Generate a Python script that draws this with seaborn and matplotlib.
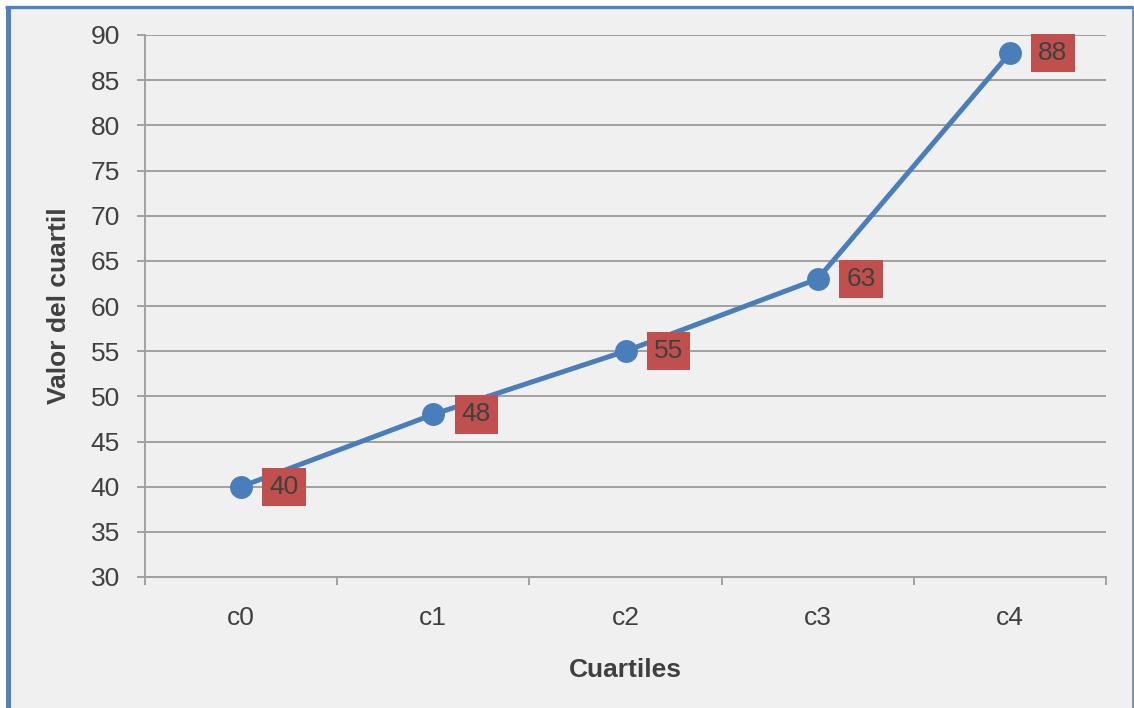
import matplotlib.pyplot as plt
from matplotlib.patches import Rectangle
import seaborn as sns
import pandas as pd
import numpy as np

categories = ['c0', 'c1', 'c2', 'c3', 'c4']
valores = [40, 48, 55, 63, 88]
y_ticks = list(range(30, 91, 5))

sns.set_theme(style='white')
plt.rcParams['font.family'] = ['Liberation Sans', 'DejaVu Sans']

df = pd.DataFrame({'cuartil': categories, 'valor': valores})

fig = plt.figure(figsize=(11.34, 7.08), dpi=100)
fig.patch.set_facecolor('white')
# inner panel with blue frame
fig.patches.append(Rectangle((7.5 / 1134, 0), (1132 - 7.5) / 1134, 1 - 6.5 / 708,
                             transform=fig.transFigure, facecolor='#F0F0F0',
                             edgecolor='none', zorder=-1))
fig.lines.append(plt.Line2D([7.5 / 1134, 7.5 / 1134], [0, 1 - 6.5 / 708], transform=fig.transFigure,
                            color='#4F81BD', linewidth=3.6, solid_capstyle='butt'))
fig.lines.append(plt.Line2D([5 / 1134, 1133 / 1134], [1 - 6.5 / 708, 1 - 6.5 / 708], transform=fig.transFigure,
                            color='#4F81BD', linewidth=2.4, solid_capstyle='butt'))
fig.lines.append(plt.Line2D([1132.5 / 1134, 1132.5 / 1134], [0, 1 - 6.5 / 708], transform=fig.transFigure,
                            color='#4F81BD', linewidth=1.2, solid_capstyle='butt'))

ax = fig.add_axes([145 / 1134, 1 - 577 / 708, (1106 - 145) / 1134, (577 - 35) / 708])
ax.set_facecolor('#F0F0F0')

sns.lineplot(data=df, x='cuartil', y='valor', sort=False, ax=ax, color='#4A7EBB',
             linewidth=3.6, marker='o', markersize=16.5, markeredgewidth=0, zorder=3)

for i, v in enumerate(valores):
    ax.annotate(str(v), (i, v), xytext=(31, 0), textcoords='offset points',
                ha='center', va='center', fontsize=19, color='#404040', zorder=5,
                bbox=dict(boxstyle='square,pad=0.27', facecolor='#C0504D', edgecolor='none'))

ax.set_xlim(-0.5, 4.5)
ax.set_ylim(30, 90)
ax.set_yticks(y_ticks)
ax.yaxis.grid(True, color='#A0A0A0', linewidth=1.4)
ax.set_axisbelow(True)

ax.set_xticks(range(len(categories)))
ax.set_xticklabels(categories)
ax.set_xticks(np.arange(-0.5, 4.6, 1), minor=True)
ax.tick_params(axis='x', which='major', length=0, pad=21, labelsize=19, labelcolor='#404040')
ax.tick_params(axis='x', which='minor', length=6, width=1.4, color='#A0A0A0', direction='out', bottom=True)
ax.tick_params(axis='y', length=6, width=1.4, color='#A0A0A0', direction='out', left=True,
               pad=12, labelsize=19, labelcolor='#404040')

for side in ['top', 'right']:
    ax.spines[side].set_visible(False)
for side in ['left', 'bottom']:
    ax.spines[side].set_color('#A0A0A0')
    ax.spines[side].set_linewidth(1.4)

ax.set_xlabel('Cuartiles', fontsize=19, fontweight='bold', color='#404040', labelpad=20)
ax.set_ylabel('Valor del cuartil', fontsize=19, fontweight='bold', color='#404040', labelpad=14)

plt.savefig('out.png', dpi=100)
